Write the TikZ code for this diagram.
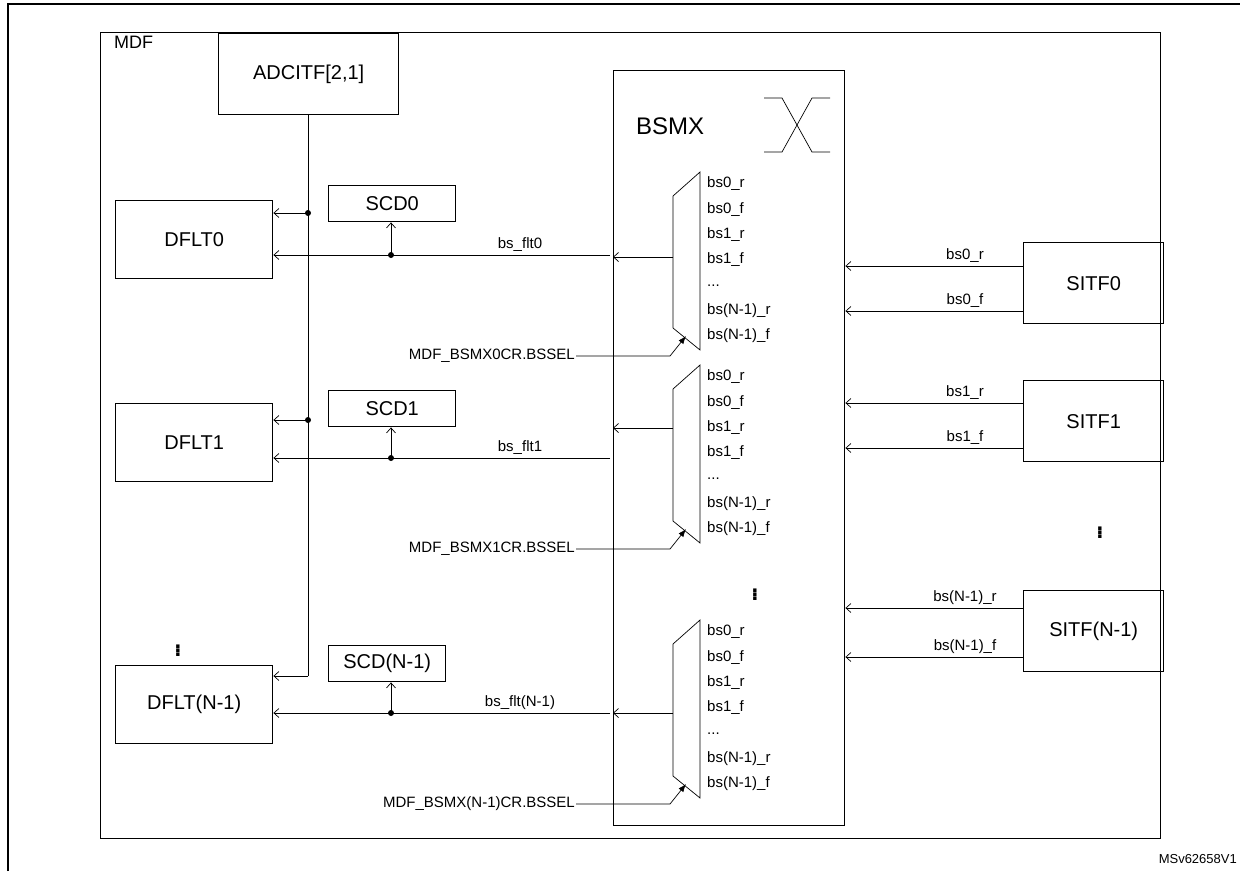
\documentclass[tikz,border=0pt]{standalone}
\usepackage{fontspec}
\setmainfont{Liberation Sans}
\usetikzlibrary{arrows.meta}
\begin{document}
\begin{tikzpicture}[x=1pt,y=-1pt,
  blk/.style={draw,line width=1.4pt,inner sep=0pt,font=\fontsize{20}{22}\selectfont},
  sm/.style={font=\fontsize{15}{17}\selectfont,inner sep=1pt},
  ln/.style={line width=0.7pt},
  oa/.style={ln,-{Straight Barb[length=5pt,width=9pt]}},
  dot/.style={circle,fill,inner sep=0pt,minimum size=6pt}]
\useasboundingbox (0,0) rectangle (1240,871);
\draw[line width=1.4pt] (8,871) -- (8,4) -- (1240,4);
\node[blk,minimum width=1060pt,minimum height=806pt,anchor=north west] (mdf) at (100,32) {};
\node[anchor=north west,inner sep=0pt,font=\fontsize{18}{20}\selectfont] (mdfl) at (114,36) {MDF};
\node[blk,minimum width=180pt,minimum height=81pt,anchor=north west] (adc) at (218,33) {ADCITF[2,1]};
\node[blk,minimum width=231pt,minimum height=755pt,anchor=north west] (bsmx) at (613,70) {};
\node[anchor=west,inner sep=0pt,font=\fontsize{24}{26}\selectfont] (bsmxl) at (636,126) {BSMX};
\draw[ln] (764,98) -- (782,98) -- (812,152) -- (830,152);
\draw[ln] (764,152) -- (782,152) -- (812,98) -- (830,98);
% left blocks
\foreach \n/\t/\y in {0/DFLT0/200,1/DFLT1/403,2/DFLT(N-1)/665}{
  \node[blk,minimum width=157pt,minimum height=78pt,anchor=north west] (df\n) at (115,\y) {\t};
}
\node[blk,minimum width=127pt,minimum height=36pt,anchor=north west] (scd0) at (328,185) {SCD0};
\node[blk,minimum width=127pt,minimum height=36pt,anchor=north west] (scd1) at (328,390) {SCD1};
\node[blk,minimum width=117pt,minimum height=36pt,anchor=north west] (scd2) at (328,645) {SCD(N-1)};
% vertical bus
\coordinate (b0) at (308,213); \coordinate (b1) at (308,420); \coordinate (b2) at (308,676);
\draw[ln] (adc.south -| b0) -- (b2);
\draw[oa] (b0) -- (b0 -| df0.east); \node[dot] (d0) at (b0) {};
\draw[oa] (b1) -- (b1 -| df1.east); \node[dot] (d1) at (b1) {};
\draw[oa] (b2) -- (b2 -| df2.east);
% muxes
\foreach \n/\t/\o/\sel in {0/172/257/MDF\_BSMX0CR.BSSEL,1/365/428/MDF\_BSMX1CR.BSSEL,2/620/713/MDF\_BSMX(N-1)CR.BSSEL}{
  \draw[ln] (673,\t+24) -- (700,\t) -- (700,\t+178) -- (673,\t+156) -- cycle;
  \coordinate (mo\n) at (673,\o);
  \draw[oa] (mo\n) -- (mo\n -| bsmx.west);
  \node[sm,anchor=east] (sel\n) at (576,\t+184) {\sel};
  \coordinate (sk\n) at (670,\t+184);
  \coordinate (st\n) at (686,\t+164);
  \draw[ln,-{Latex[length=8pt,width=6pt]}] (sel\n.east) -- (sk\n) -- (st\n);
  \foreach \l [count=\i from 0] in {bs0\_r,bs0\_f,bs1\_r,bs1\_f,.{}.{}.,bs(N-1)\_r,bs(N-1)\_f}{
    \node[sm,anchor=west] (lab\n\i) at (706,\t+12+25.3*\i) {\l};
  }
}
% flt lines
\foreach \n/\y/\s in {0/255/scd0,1/458/scd1,2/713/scd2}{
  \coordinate (fl\n) at (391,\y);
  \coordinate (fs\n) at (610,\y);
  \draw[oa] (fs\n) -- (df\n.east |- fl\n);
  \draw[oa] (fl\n) -- (\s.south -| fl\n);
  \node[dot] (fd\n) at (fl\n) {};
}
\node[sm,anchor=south] (t0) at (520,253) {bs\_flt0};
\node[sm,anchor=south] (t1) at (520,456) {bs\_flt1};
\node[sm,anchor=south] (t2) at (520,711) {bs\_flt(N-1)};
% right SITF
\foreach \n/\y/\t/\a/\b/\ra/\rb in {0/242/SITF0/bs0\_r/bs0\_f/266/311,1/380/SITF1/bs1\_r/bs1\_f/403/448,2/590/SITF(N-1)/bs(N-1)\_r/bs(N-1)\_f/608/657}{
  \node[blk,minimum width=140pt,minimum height=81pt,anchor=north west] (si\n) at (1023,\y) {\t};
  \coordinate (ra\n) at (1023,\ra); \coordinate (rb\n) at (1023,\rb);
  \draw[oa] (ra\n) -- (ra\n -| bsmx.east);
  \draw[oa] (rb\n) -- (rb\n -| bsmx.east);
  \node[sm,anchor=south] (ta\n) at (965,\ra-2) {\a};
  \node[sm,anchor=south] (tb\n) at (965,\rb-2) {\b};
}
% dots
\node[font=\fontsize{24}{24}\selectfont\bfseries,inner sep=0pt] (v1) at (178,648) {$\vdots$};
\node[font=\fontsize{24}{24}\selectfont\bfseries,inner sep=0pt] (v2) at (755,592) {$\vdots$};
\node[font=\fontsize{24}{24}\selectfont\bfseries,inner sep=0pt] (v3) at (1100,530) {$\vdots$};
\node[sm,anchor=east,font=\fontsize{13}{15}\selectfont] (id) at (1238,859) {MSv62658V1};
\end{tikzpicture}
\end{document}
